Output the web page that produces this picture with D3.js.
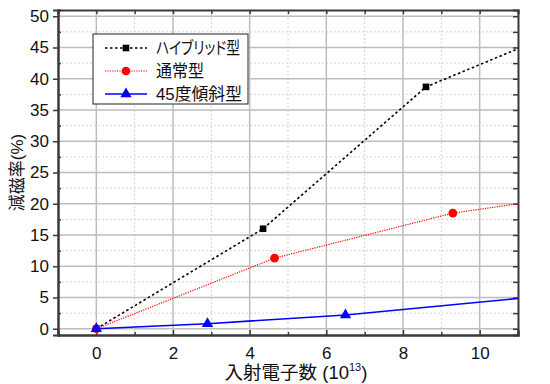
<!DOCTYPE html>
<html>
<head>
<meta charset="utf-8">
<script src="https://cdn.jsdelivr.net/npm/d3@7"></script>
<style>
  body { margin: 0; background: #fff; }
  text { font-family: "Liberation Sans", Arial, "Noto Sans CJK JP", sans-serif; }
  .jp { font-family: "Liberation Sans", Arial, "Noto Sans CJK JP", sans-serif; font-feature-settings: "palt"; }
</style>
</head>
<body>
<script>
// data
var seriesNames = ["ハイブリッド型", "通常型", "45度傾斜型"];
var hybridX = [0, 4.35, 8.6, 11];
var hybridY = [0, 16.0, 38.7, 44.8];
var normalX = [0, 4.65, 9.3, 11];
var normalY = [0, 11.3, 18.5, 20.0];
var tiltX = [0, 2.9, 6.5, 11];
var tiltY = [0, 0.8, 2.2, 4.85];
var xTicks = [0, 2, 4, 6, 8, 10];
var yTicks = [0, 5, 10, 15, 20, 25, 30, 35, 40, 45, 50];

var width = 550, height = 384;
var margin = { top: 10, right: 32, bottom: 49, left: 58 };
var w = width - margin.left - margin.right,
    h = height - margin.top - margin.bottom;

var svg = d3.select("body").append("svg")
    .attr("width", width)
    .attr("height", height);

var g = svg.append("g")
    .attr("transform", "translate(" + margin.left + "," + margin.top + ")");

var x = d3.scaleLinear().domain([-1, 11]).range([0, w]);
var y = d3.scaleLinear().domain([-1, 51]).range([h, 0]);

// minor grid (dotted)
var xMinor = d3.range(-1, 12, 1).filter(function (d) { return d % 2 !== 0; });
var yMinor = d3.range(2.5, 51, 5);
g.selectAll(".gxm").data(xMinor).enter().append("line")
    .attr("x1", function (d) { return x(d); }).attr("x2", function (d) { return x(d); })
    .attr("y1", 0).attr("y2", h)
    .attr("stroke", "#d4d4d4").attr("stroke-width", 1).attr("stroke-dasharray", "2,2");
g.selectAll(".gym").data(yMinor).enter().append("line")
    .attr("x1", 0).attr("x2", w)
    .attr("y1", function (d) { return y(d); }).attr("y2", function (d) { return y(d); })
    .attr("stroke", "#d4d4d4").attr("stroke-width", 1).attr("stroke-dasharray", "2,2");

// major grid
g.selectAll(".gx").data(xTicks).enter().append("line")
    .attr("x1", function (d) { return x(d); }).attr("x2", function (d) { return x(d); })
    .attr("y1", 0).attr("y2", h)
    .attr("stroke", "#bdbdbd").attr("stroke-width", 1.5);
g.selectAll(".gy").data(yTicks).enter().append("line")
    .attr("x1", 0).attr("x2", w)
    .attr("y1", function (d) { return y(d); }).attr("y2", function (d) { return y(d); })
    .attr("stroke", "#bdbdbd").attr("stroke-width", 1.5);

// axes
var xAxis = g.append("g")
    .attr("transform", "translate(0," + h + ")")
    .call(d3.axisBottom(x).tickValues(xTicks).tickSize(-5).tickPadding(12));
var xMinorAxis = g.append("g")
    .attr("transform", "translate(0," + h + ")")
    .call(d3.axisBottom(x).tickValues(xMinor).tickSize(-3).tickFormat(""));
var yAxis = g.append("g")
    .call(d3.axisLeft(y).tickValues(yTicks).tickSize(5).tickPadding(4));
var yMinorAxis = g.append("g")
    .call(d3.axisLeft(y).tickValues(yMinor).tickSize(-3).tickFormat(""));
var topAxis = g.append("g")
    .call(d3.axisTop(x).tickValues(d3.range(-1, 12, 1)).tickSize(-4).tickFormat(""));
var rightAxis = g.append("g")
    .attr("transform", "translate(" + w + ",0)")
    .call(d3.axisRight(y).tickValues(d3.range(0, 51, 2.5)).tickSize(-5).tickFormat(""));

[xAxis, xMinorAxis, yAxis, yMinorAxis, topAxis, rightAxis].forEach(function (a) {
    a.select(".domain").attr("stroke", "#3a3a3a").attr("stroke-width", 2);
    a.selectAll(".tick line").attr("stroke", "#3a3a3a").attr("stroke-width", 1.5);
    a.selectAll(".tick text").attr("font-size", 17).attr("fill", "#111")
        .style("font-family", "'Liberation Sans', Arial, sans-serif");
});

// lines
var line = d3.line()
    .x(function (d) { return x(d[0]); })
    .y(function (d) { return y(d[1]); });

var series = [
    { xs: hybridX, ys: hybridY, color: "#000", width: 1.6, dash: "2.5,2.5", marker: "square" },
    { xs: normalX, ys: normalY, color: "#ff0000", width: 1.2, dash: "1.2,1.2", marker: "circle" },
    { xs: tiltX, ys: tiltY, color: "#0000ff", width: 1.6, dash: null, marker: "triangle" }
];

var symbolFor = {
    square: d3.symbol().type(d3.symbolSquare).size(44),
    circle: d3.symbol().type(d3.symbolCircle).size(60),
    triangle: d3.symbol().type(d3.symbolTriangle).size(55)
};

series.forEach(function (s) {
    var pts = s.xs.map(function (v, i) { return [v, s.ys[i]]; });
    g.append("path")
        .datum(pts)
        .attr("fill", "none")
        .attr("stroke", s.color)
        .attr("stroke-width", s.width)
        .attr("stroke-dasharray", s.dash)
        .attr("d", line);
});

series.forEach(function (s) {
    // last point sits on the frame edge and has no marker
    var pts = s.xs.slice(0, -1).map(function (v, i) { return [v, s.ys[i]]; });
    g.selectAll(null).data(pts).enter().append("path")
        .attr("transform", function (d) { return "translate(" + x(d[0]) + "," + y(d[1]) + ")"; })
        .attr("d", symbolFor[s.marker])
        .attr("fill", s.color);
});

// legend
var legend = svg.append("g").attr("transform", "translate(93,34)");
legend.append("rect")
    .attr("width", 155).attr("height", 70)
    .attr("fill", "#fff").attr("stroke", "#222").attr("stroke-width", 1);

var legendTextWidth = [84, 48, 86];
series.forEach(function (s, i) {
    var ly = 14 + i * 23;
    legend.append("line")
        .attr("x1", 12).attr("x2", 54)
        .attr("y1", ly).attr("y2", ly)
        .attr("stroke", s.color).attr("stroke-width", s.width)
        .attr("stroke-dasharray", s.dash);
    legend.append("path")
        .attr("transform", "translate(33," + ly + ")")
        .attr("d", symbolFor[s.marker])
        .attr("fill", s.color);
    legend.append("text")
        .attr("class", "jp")
        .attr("x", 63).attr("y", ly + 6)
        .attr("font-size", 17)
        .attr("textLength", legendTextWidth[i])
        .attr("lengthAdjust", "spacingAndGlyphs")
        .attr("fill", "#111")
        .text(seriesNames[i]);
});

// axis titles
svg.append("text")
    .attr("class", "jp")
    .attr("transform", "translate(23," + (margin.top + y(25)) + ") rotate(-90)")
    .attr("text-anchor", "middle")
    .attr("font-size", 17)
    .attr("fill", "#111")
    .text("減磁率(%)");

var xt = svg.append("text")
    .attr("class", "jp")
    .attr("x", 296)
    .attr("y", 379)
    .attr("text-anchor", "middle")
    .attr("font-size", 18.5)
    .attr("fill", "#111");
xt.append("tspan").text("入射電子数 (10");
xt.append("tspan").attr("font-size", 11).attr("dy", -8).text("13");
xt.append("tspan").attr("dy", 8).text(")");
</script>
</body>
</html>
